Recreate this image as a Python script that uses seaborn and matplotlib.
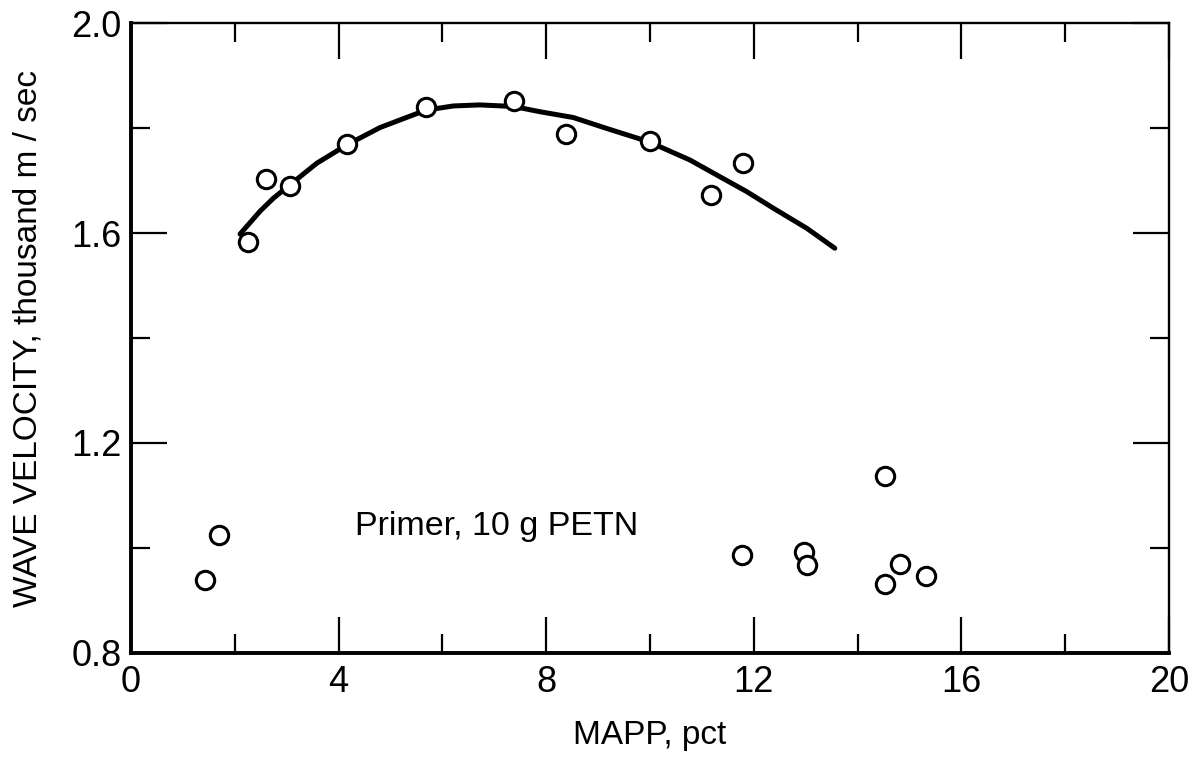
import numpy as np
import pandas as pd
import matplotlib
matplotlib.use("Agg")
import matplotlib.pyplot as plt
import seaborn as sns
from matplotlib.ticker import MultipleLocator

# ---- data ----
pts_x = [2.25, 2.60, 3.07, 4.17, 5.69, 7.37, 8.39, 9.99, 11.17, 11.80,
         1.43, 1.70, 11.77, 12.96, 13.02, 14.52, 14.52, 14.81, 15.31]
pts_y = [1.582, 1.703, 1.690, 1.769, 1.840, 1.851, 1.789, 1.775, 1.673, 1.733,
         0.939, 1.025, 0.986, 0.993, 0.968, 1.137, 0.931, 0.969, 0.947]

curve_x = [2.10, 2.49, 2.74, 3.04, 3.58, 4.16, 4.80, 5.68, 6.21, 6.72, 7.37,
           7.88, 8.52, 9.17, 9.97, 10.77, 11.35, 11.86, 12.38, 13.02, 13.56]
curve_y = [1.598, 1.642, 1.666, 1.690, 1.733, 1.768, 1.801, 1.834, 1.842, 1.844,
           1.841, 1.831, 1.820, 1.799, 1.774, 1.739, 1.707, 1.679, 1.647, 1.609, 1.571]

x_ticks = [0, 4, 8, 12, 16, 20]
y_ticks = [0.8, 1.2, 1.6, 2.0]
x_label = "MAPP, pct"
y_label = "WAVE VELOCITY, thousand m / sec"
note = "Primer, 10 g PETN"

sns.set_style("ticks")
plt.rcParams['font.family'] = ['Liberation Sans', 'DejaVu Sans']
plt.rcParams['text.color'] = 'black'
plt.rcParams['axes.labelcolor'] = 'black'
plt.rcParams['xtick.color'] = 'black'
plt.rcParams['ytick.color'] = 'black'

fig = plt.figure(figsize=(11.99, 7.57), dpi=100)
ax = fig.add_axes([0.1093, 0.1374, 0.975 - 0.1093, 0.9696 - 0.1374])

pts = pd.DataFrame({"x": pts_x, "y": pts_y})
cur = pd.DataFrame({"x": curve_x, "y": curve_y})

sns.lineplot(data=cur, x="x", y="y", sort=False, estimator=None, ax=ax,
             color="black", linewidth=3.6, zorder=2)
sns.scatterplot(data=pts, x="x", y="y", ax=ax, s=175, marker="o",
                facecolor="white", edgecolor="black", linewidth=2.2, zorder=3)

ax.set_xlim(0, 20)
ax.set_ylim(0.8, 2.0)
ax.set_xticks(x_ticks)
ax.set_xticklabels([str(t) for t in x_ticks])
ax.set_yticks(y_ticks)
ax.set_yticklabels([f"{t:.1f}" for t in y_ticks])
ax.xaxis.set_minor_locator(MultipleLocator(2))
ax.yaxis.set_minor_locator(MultipleLocator(0.2))

ax.tick_params(which="both", direction="in", top=True, right=True,
               bottom=True, left=True, color="black", width=1.6)
ax.tick_params(which="major", length=26)
ax.tick_params(which="minor", length=14)
ax.tick_params(axis="x", which="major", labelsize=26, pad=9, labelcolor="black")
ax.tick_params(axis="y", which="major", labelsize=26, pad=7, labelcolor="black")

for side in ["left", "bottom"]:
    ax.spines[side].set_linewidth(2.8)
for side in ["top", "right"]:
    ax.spines[side].set_linewidth(1.7)
for s in ax.spines.values():
    s.set_color("black")
    s.set_visible(True)

ax.set_xlabel(x_label, fontsize=24, labelpad=14, color="black")
ax.set_ylabel(y_label, fontsize=24, labelpad=20, color="black")

ax.text(4.32, 1.04, note, fontsize=24.5, ha="left", va="center", color="black")

fig.savefig("out.png", dpi=100)
